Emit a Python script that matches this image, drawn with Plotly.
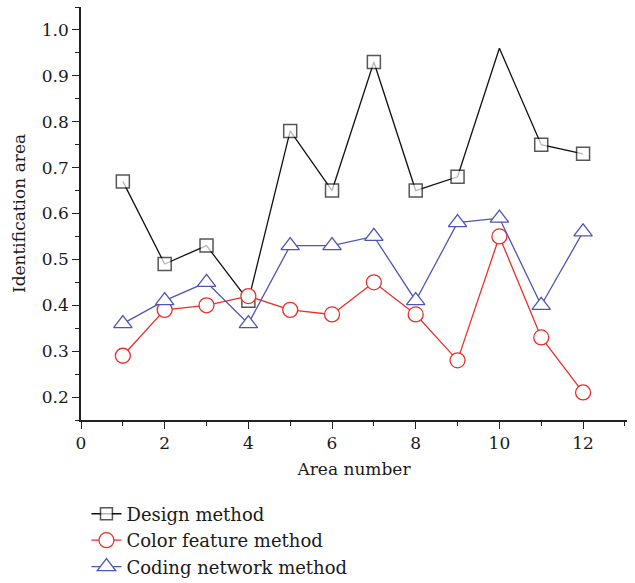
import plotly.graph_objects as go

area = list(range(1, 13))
design = [0.67, 0.49, 0.53, 0.41, 0.78, 0.65, 0.93, 0.65, 0.68, 0.96, 0.75, 0.73]
color_feat = [0.29, 0.39, 0.40, 0.42, 0.39, 0.38, 0.45, 0.38, 0.28, 0.55, 0.33, 0.21]
coding = [0.36, 0.41, 0.45, 0.36, 0.53, 0.53, 0.55, 0.41, 0.58, 0.59, 0.40, 0.56]
x_ticks = [0, 2, 4, 6, 8, 10, 12]
y_ticks = [0.2, 0.3, 0.4, 0.5, 0.6, 0.7, 0.8, 0.9, 1.0]

FONT = "DejaVu Serif"
TXT = "#1a1a1a"
BLACK = "#111111"
RED = "#e8302a"
BLUE = "#4f55b3"

design_sizes = [13] * len(area)
design_sizes[9] = 0  # no marker drawn at the peak in the reference

fig = go.Figure()
fig.add_trace(go.Scatter(
    x=area, y=design, mode="lines+markers", name="Design method",
    line=dict(color=BLACK, width=1.3),
    marker=dict(symbol="square", size=design_sizes, color="white",
                line=dict(color=BLACK, width=1.5)),
))
fig.add_trace(go.Scatter(
    x=area, y=color_feat, mode="lines+markers", name="Color feature method",
    line=dict(color=RED, width=1.3),
    marker=dict(symbol="circle", size=15, color="white",
                line=dict(color=RED, width=1.3)),
))
fig.add_trace(go.Scatter(
    x=area, y=coding, mode="lines+markers", name="Coding network method",
    line=dict(color=BLUE, width=1.3),
    marker=dict(symbol="triangle-up", size=16, color="white",
                line=dict(color=BLUE, width=1.3)),
))

axis_common = dict(
    showline=True, linecolor="#222222", linewidth=1.5,
    ticks="outside", ticklen=7, tickwidth=1.3, tickcolor="#222222",
    showgrid=False, zeroline=False,
    tickfont=dict(family=FONT, size=17, color=TXT),
)

fig.update_xaxes(
    range=[0, 13.05], tickvals=x_ticks, ticktext=[str(v) for v in x_ticks],
    title=dict(text="Area number", font=dict(family=FONT, size=17, color=TXT), standoff=11),
    minor=dict(tickvals=[1, 3, 5, 7, 9, 11, 13], ticks="outside", ticklen=4,
               tickwidth=1.1, tickcolor="#222222"),
    **axis_common,
)
fig.update_yaxes(
    range=[0.15, 1.05], tickvals=y_ticks, ticktext=[f"{v:.1f}" for v in y_ticks],
    title=dict(text="Identification area", font=dict(family=FONT, size=17, color=TXT), standoff=12),
    minor=dict(tickvals=[0.15, 0.25, 0.35, 0.45, 0.55, 0.65, 0.75, 0.85, 0.95, 1.05],
               ticks="outside", ticklen=4, tickwidth=1.1, tickcolor="#222222"),
    **axis_common,
)

fig.update_layout(
    width=635, height=583,
    margin=dict(l=81, r=8, t=7, b=163, autoexpand=False),
    plot_bgcolor="white", paper_bgcolor="white",
    showlegend=True,
    legend=dict(
        x=0.01, y=0.15, xref="paper", yref="container",
        xanchor="left", yanchor="top",
        font=dict(family=FONT, size=18, color=TXT),
        bgcolor="rgba(0,0,0,0)", borderwidth=0,
        tracegroupgap=0, itemwidth=30,
    ),
)

fig.write_html("out.html")
